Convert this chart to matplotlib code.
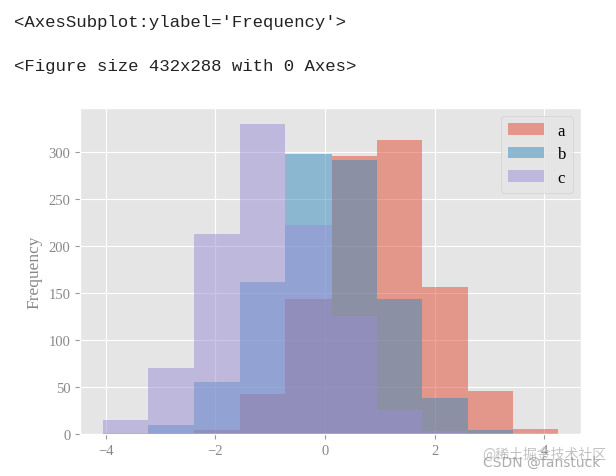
import numpy as np
import matplotlib.pyplot as plt

plt.style.use("ggplot")

# shared bin edges (pandas hist, 10 bins)
edges = [-4.05, -3.22, -2.38, -1.55, -0.73, 0.12, 0.95, 1.76, 2.60, 3.42, 4.25]
series = ["a", "b", "c"]
counts_a = [0, 1, 4, 43, 143, 296, 313, 156, 46, 5]
counts_b = [1, 10, 55, 162, 298, 291, 143, 38, 4, 0]
counts_c = [15, 70, 213, 330, 222, 125, 26, 3, 0, 0]

fig = plt.figure(figsize=(6.16, 4.77), dpi=100)

# jupyter output lines
fig.text(0.023, 0.952, "<AxesSubplot:ylabel='Frequency'>", family="Liberation Mono",
         fontsize=12.5, va="center", ha="left", color="#222222")
fig.text(0.023, 0.860, "<Figure size 432x288 with 0 Axes>", family="Liberation Mono",
         fontsize=12.5, va="center", ha="left", color="#222222")

ax = fig.add_axes([0.130, 0.088, 0.813, 0.6835])
centers = [(edges[i] + edges[i + 1]) / 2 for i in range(len(edges) - 1)]
for name, cnt in zip(series, [counts_a, counts_b, counts_c]):
    ax.hist(centers, bins=edges, weights=cnt, alpha=0.5, label=name)

ax.set_xticks([-4, -2, 0, 2, 4])
ax.set_yticks([0, 50, 100, 150, 200, 250, 300])
for lab in ax.get_xticklabels() + ax.get_yticklabels():
    lab.set_family("Liberation Serif")
    lab.set_fontsize(10.5)
    lab.set_color("#888888")
ax.tick_params(colors="#999999", labelcolor="#888888")
ax.set_ylabel("Frequency", family="Liberation Serif", fontsize=12.5, color="#888888")
leg = ax.legend(loc="upper right", prop={"family": "Liberation Serif", "size": 12},
                handlelength=2.2, labelspacing=0.45)

# watermark (overlapping, as in the screenshot)
fig.text(0.985, 0.047, "@稀土掘金技术社区", family=["Noto Sans CJK SC", "DejaVu Sans"],
         fontsize=10, color="#bbbbbb", ha="right", va="center", alpha=0.9)
fig.text(0.975, 0.030, "CSDN @fanstuck", family="DejaVu Sans",
         fontsize=10, color="#999999", ha="right", va="center", alpha=0.8)

fig.savefig("out.png", dpi=100)
